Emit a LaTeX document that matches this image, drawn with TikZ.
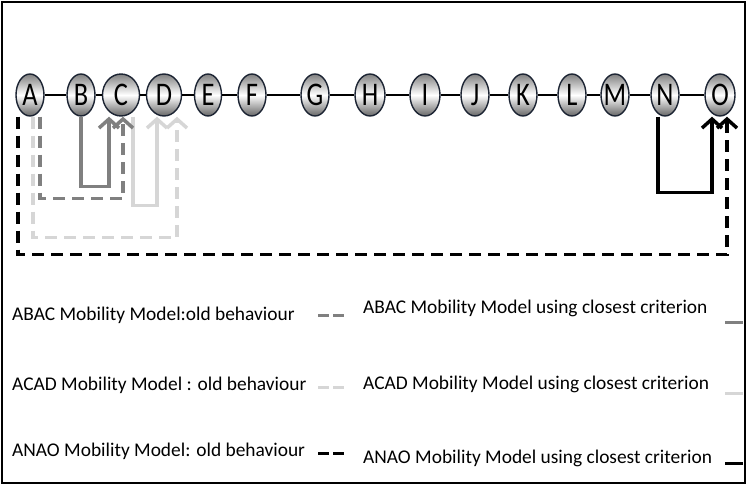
\documentclass[tikz,border=0pt]{standalone}
\usepackage{fontspec}
\setmainfont{Carlito}
\newfontfamily\stationfont[FakeStretch=0.8]{Carlito}
\usetikzlibrary{arrows.meta, shapes.geometric, calc}
\definecolor{midgray}{HTML}{808080}
\definecolor{palegray}{HTML}{D6D6D6}
\definecolor{nodeedge}{HTML}{1C2433}
\tikzset{
    >={Straight Barb[length=9pt,width=20pt]},
    station/.style={ellipse, draw=nodeedge, line width=1.4pt, inner sep=0pt, minimum height=42pt,
        top color=black!50, bottom color=black!60, middle color=white,
        font=\stationfont\fontsize{33}{33}\selectfont},
    track/.style={line width=2.5pt},
    closest/.style={->, line width=3.5pt},
    oldway/.style={closest, dash pattern=on 12pt off 7pt},
    legend/.style={anchor=west, inner sep=0pt, font=\fontsize{19.4}{22}\selectfont},
    swatch/.style={line width=3pt},
}

\begin{document}
\begin{tikzpicture}[x=1pt, y=-1pt]
    \useasboundingbox (0,0) rectangle (747,486);
    \draw[line width=1.5pt] (2,2) rectangle (745,483);
    \foreach \n/\x/\w in {A/30/28,B/81/28,C/121/37,D/164/35,E/208/27,F/252/28,G/315/28,H/370/30,
        I/425/30,J/475/28,K/523/28,L/572/28,M/615/28,N/665/28,O/720/30}
        \node[station, minimum width=\w pt] (\n) at (\x,95) {\makebox[0pt]{\n}};
    \foreach \a/\b in {A/B,B/C,C/D,D/E,E/F,F/G,G/H,H/I,I/J,J/K,K/L,L/M,M/N,N/O}
        \draw[track] (\a) -- (\b);
    % ACAD
    \draw[oldway, palegray] ([xshift=3pt]A.south) -- ++(0,121) -| ([xshift=13pt]D.south);
    \draw[closest, palegray] ([xshift=12pt]C.south) -- ++(0,89) -| ([xshift=-7pt]D.south);
    % ABAC
    \draw[oldway, midgray] ([xshift=10pt]A.south) -- ++(0,82) -| ([xshift=2pt]C.south);
    \draw[closest, midgray] (B.south) -- ++(0,70) -| ([xshift=-12pt]C.south);
    % ANAO
    \draw[oldway] ([xshift=-12pt]A.south) -- ++(0,138) -| ([xshift=7pt]O.south);
    \draw[closest] ([xshift=-7pt]N.south) -- ++(0,76) -| ([xshift=-8pt]O.south);
    % legend
    \node[legend] (abac_old) at (12,315) {ABAC Mobility Model:old behaviour};
    \node[legend] (acad_old) at (12,385) {ACAD Mobility Model : old behaviour};
    \node[legend] (anao_old) at (12,451) {ANAO Mobility Model: old behaviour};
    \node[legend] (abac_new) at (363,308) {ABAC Mobility Model using closest criterion};
    \node[legend] (acad_new) at (363,384) {ACAD Mobility Model using closest criterion};
    \node[legend] (anao_new) at (363,458) {ANAO Mobility Model using closest criterion};
    \foreach \c/\y in {midgray/316,palegray/387,black/453}
        \draw[swatch, \c, dash pattern=on 11pt off 4pt] (318,\y) -- (344,\y);
    \foreach \c/\y in {midgray/323,palegray/393,black/463}
        \draw[swatch, \c] (725,\y) -- (743,\y);
\end{tikzpicture}
\end{document}
